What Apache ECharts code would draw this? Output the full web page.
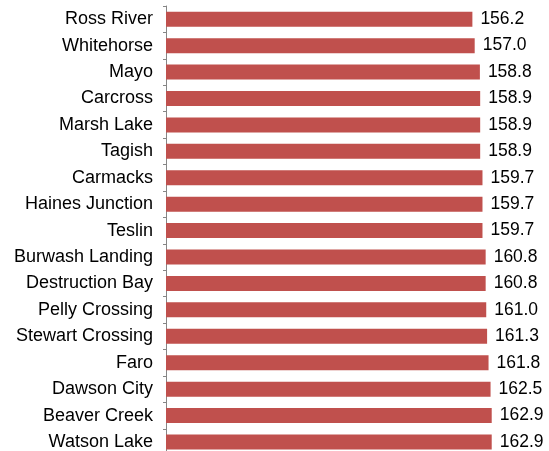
<!DOCTYPE html>
<html>
<head>
<meta charset="utf-8">
<script src="https://cdn.jsdelivr.net/npm/echarts@6/dist/echarts.min.js"></script>
<style>
    html, body { margin: 0; padding: 0; background: #fff; }
    #chart { width: 549px; height: 451px; }
</style>
</head>
<body>
<div id="chart"></div>
<script>
// 社区名称（从上到下）
var communities = ['Ross River', 'Whitehorse', 'Mayo', 'Carcross', 'Marsh Lake', 'Tagish',
    'Carmacks', 'Haines Junction', 'Teslin', 'Burwash Landing', 'Destruction Bay',
    'Pelly Crossing', 'Stewart Crossing', 'Faro', 'Dawson City', 'Beaver Creek', 'Watson Lake'];

// 数值
var values = [156.2, 157.0, 158.8, 158.9, 158.9, 158.9, 159.7, 159.7, 159.7,
    160.8, 160.8, 161.0, 161.3, 161.8, 162.5, 162.9, 162.9];

var myChart = echarts.init(document.getElementById('chart'));

var option = {
    animation: false,
    grid: {
        left: 166,
        top: 6,
        right: 36.8,
        height: 449.2,
        outerBoundsMode: 'none'
    },
    xAxis: {
        type: 'value',
        min: 50,
        max: 170,
        show: false
    },
    yAxis: {
        type: 'category',
        inverse: true,
        data: communities,
        axisLine: {
            lineStyle: {
                color: '#868686'
            }
        },
        axisTick: {
            show: true,
            length: 3,
            lineStyle: {
                color: '#868686'
            }
        },
        axisLabel: {
            margin: 13,
            color: '#000',
            fontSize: 18,
            fontFamily: 'Liberation Sans, Arial, sans-serif'
        }
    },
    series: [{
        type: 'bar',
        data: values,
        barWidth: 15,
        itemStyle: {
            color: '#C0504D'
        },
        label: {
            show: true,
            position: 'right',
            distance: 8,
            color: '#000',
            fontSize: 17.5,
            fontFamily: 'Liberation Sans, Arial, sans-serif',
            formatter: function (p) {
                return p.value.toFixed(1);
            }
        }
    }]
};

myChart.setOption(option);
</script>
</body>
</html>
